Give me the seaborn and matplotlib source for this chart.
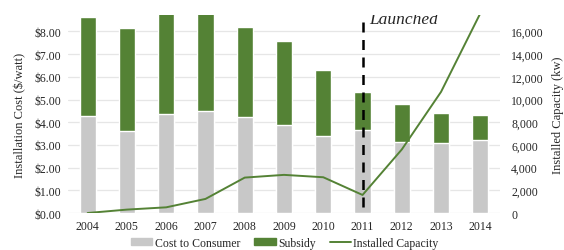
import pandas as pd
import matplotlib.pyplot as plt
import matplotlib.lines as mlines
import matplotlib.patches as mpatches
import seaborn as sns
import numpy as np

# Values
years = ['2004', '2005', '2006', '2007', '2008', '2009', '2010', '2011', '2012', '2013', '2014']
cost_to_consumer = [4.29, 3.63, 4.35, 4.51, 4.25, 3.86, 3.39, 3.67, 3.13, 3.10, 3.22]
subsidy = [4.34, 4.51, 4.55, 4.39, 3.94, 3.72, 2.89, 1.67, 1.68, 1.32, 1.09]
installed_capacity = [0, 300, 500, 1240, 3120, 3360, 3150, 1590, 5600, 10680, 17600]

gray = '#c8c8c8'
green = '#548235'
serif = 'Liberation Serif'

df = pd.DataFrame({
    'year': years,
    'cost': cost_to_consumer,
    'total': np.array(cost_to_consumer) + np.array(subsidy),
    'capacity': installed_capacity,
})
df['pos'] = np.arange(len(df))

sns.set_style('white')
plt.rcParams['font.family'] = [serif, 'DejaVu Serif']

fig = plt.figure(figsize=(5.64, 2.51), dpi=100)
ax = fig.add_axes([0.1206, 0.1474, 0.7659, 0.7886])

sns.barplot(data=df, x='year', y='total', color=green, width=0.41,
            saturation=1, ax=ax, zorder=2)
sns.barplot(data=df, x='year', y='cost', color=gray, width=0.41,
            saturation=1, ax=ax, zorder=3)

ax.set_xlim(-0.5, len(years) - 0.5)
ax.set_ylim(0, 8.72)
ax.set_yticks(np.arange(0, 9, 1))
ax.set_yticklabels([f'${v:.2f}' for v in np.arange(0, 9, 1)])
ax.yaxis.grid(True, color='#e6e6e6', linewidth=0.9, zorder=0)
ax.set_axisbelow(True)
ax.set_xlabel('')
ax.set_ylabel('Installation Cost ($/watt)', fontsize=9, labelpad=6)
ax.tick_params(axis='both', length=0, labelsize=8.5, pad=5)
for s in ax.spines.values():
    s.set_visible(False)

ax2 = ax.twinx()
sns.lineplot(data=df, x='pos', y='capacity', color=green, linewidth=1.4, ax=ax2)
ax2.set_ylim(0, 17440)
ax2.set_yticks(np.arange(0, 17000, 2000))
ax2.set_yticklabels([f'{v:,}' for v in np.arange(0, 17000, 2000)])
ax2.set_ylabel('Installed Capacity (kw)', fontsize=9, labelpad=6)
ax2.tick_params(axis='y', length=0, labelsize=8.5, pad=8)
for s in ax2.spines.values():
    s.set_visible(False)

# launch marker, label clipped at the top as in the source crop
ax2.axvline(7, ymin=0.03, ymax=1, color='black', linestyle=(0, (4, 3)), linewidth=1.8)
ax2.text(7.17, 16750, 'Launched', fontsize=12.5, style='italic', ha='left',
         va='baseline', clip_on=True)

handles = [
    mpatches.Patch(color=gray, label='Cost to Consumer'),
    mpatches.Patch(color=green, label='Subsidy'),
    mlines.Line2D([], [], color=green, linewidth=1.4, label='Installed Capacity'),
]
fig.legend(handles=handles, loc='lower center', ncol=3, frameon=False,
           fontsize=8.5, bbox_to_anchor=(0.505, -0.037), handlelength=1.8,
           handleheight=0.6, columnspacing=1.2, handletextpad=0.2)

fig.savefig('out.png', dpi=100)
